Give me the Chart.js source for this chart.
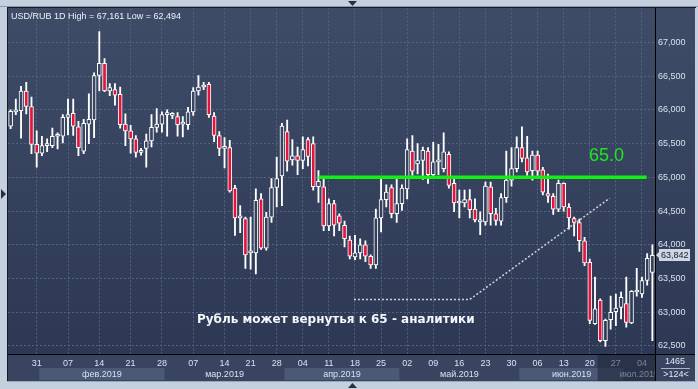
<!DOCTYPE html>
<html>
<head>
<meta charset="utf-8">
<script src="https://cdn.jsdelivr.net/npm/chart.js@4.4.1/dist/chart.umd.min.js"></script>
<style>
  html, body { margin: 0; padding: 0; background: #c5d0de; }
  #wrap { width: 698px; height: 389px; }
</style>
</head>
<body>
<div id="wrap"><canvas id="chart" width="698" height="389"></canvas></div>
<script>
// USD/RUB 1D свечи, 25.01 - 08.07.2019

const dates = [
  '25.01','27.01','28.01','29.01','30.01','31.01','01.02','03.02','04.02','05.02',
  '06.02','07.02','08.02','10.02','11.02','12.02','13.02','14.02','15.02','17.02',
  '18.02','19.02','20.02','21.02','22.02','24.02','25.02','26.02','27.02','28.02',
  '01.03','03.03','04.03','05.03','06.03','07.03','08.03','10.03','11.03','12.03',
  '13.03','14.03','15.03','18.03','19.03','20.03','21.03','22.03','25.03','26.03',
  '27.03','28.03','29.03','01.04','02.04','03.04','04.04','05.04','08.04','09.04',
  '10.04','11.04','12.04','15.04','16.04','17.04','18.04','19.04','22.04','23.04',
  '24.04','25.04','26.04','29.04','30.04','01.05','02.05','03.05','06.05','07.05',
  '08.05','09.05','10.05','13.05','14.05','15.05','16.05','17.05','20.05','21.05',
  '22.05','23.05','24.05','27.05','28.05','29.05','30.05','31.05','03.06','04.06',
  '05.06','06.06','07.06','10.06','11.06','12.06','13.06','14.06','17.06','18.06',
  '19.06','20.06','21.06','24.06','25.06','26.06','27.06','28.06','01.07','02.07',
  '03.07','04.07','05.07','08.07'
];

const open = [
  65.76,65.97,65.99,66.28,66.05,65.49,65.36,65.47,65.47,65.61,
  65.61,65.89,65.95,65.75,65.39,65.79,65.85,66.51,66.69,66.28,
  66.30,66.23,65.79,65.69,65.57,65.37,65.43,65.54,65.74,65.79,
  65.93,65.92,65.90,65.79,65.78,65.97,66.28,66.34,66.38,65.91,
  65.62,65.43,65.44,64.84,64.40,64.39,63.88,63.88,64.68,63.95,
  64.41,64.85,65.02,65.68,65.26,65.32,65.25,65.56,65.50,64.86,
  64.86,64.28,64.61,64.43,64.29,64.07,63.82,63.88,64.00,63.83,
  63.70,64.40,64.67,64.85,64.46,64.61,64.83,65.39,65.20,65.25,
  65.39,65.04,65.23,65.13,65.34,64.91,64.62,64.62,64.67,64.53,
  64.34,64.34,64.86,64.46,64.35,64.70,64.96,65.13,65.44,65.29,
  65.10,65.33,65.11,64.76,64.72,64.53,64.91,64.56,64.39,64.33,
  64.06,63.74,62.83,63.18,62.58,62.89,63.01,63.07,63.13,62.84,
  63.30,63.27,63.47,63.59
];
const high = [
  66.00,66.16,66.35,66.41,66.19,65.69,65.61,65.57,65.73,65.66,
  65.93,66.16,66.16,65.83,65.86,66.24,66.55,67.161,66.76,66.39,
  66.39,66.34,65.94,65.77,65.62,65.43,65.64,65.93,66.02,65.97,
  66.00,65.96,65.96,65.90,66.04,66.33,66.51,66.41,66.41,65.96,
  65.68,65.59,65.55,64.88,64.58,64.41,64.41,64.83,64.76,64.48,
  64.98,65.30,65.80,65.85,65.56,65.45,65.60,65.59,65.60,65.10,
  65.00,64.68,64.66,64.46,64.35,64.13,64.14,64.09,64.06,63.85,
  64.53,64.99,64.89,64.89,64.98,64.89,65.57,65.62,65.50,65.45,
  65.44,65.52,65.49,65.66,65.38,64.98,64.81,64.81,64.82,64.68,
  64.49,64.93,64.93,64.54,64.76,65.39,65.44,65.60,65.75,65.61,
  65.39,65.39,65.15,65.05,64.76,64.96,64.92,64.61,64.41,64.38,
  64.11,63.79,63.52,63.20,62.90,63.24,63.27,63.30,63.52,63.32,
  63.65,63.52,63.87,64.00
];
const low = [
  65.72,65.93,65.58,65.94,65.35,65.15,65.32,65.38,65.44,65.42,
  65.51,65.63,65.62,65.32,65.35,65.50,65.59,66.28,66.27,66.21,
  66.07,65.73,65.47,65.36,65.30,65.33,65.15,65.45,65.67,65.67,
  65.61,65.87,65.61,65.60,65.71,65.92,66.22,66.30,65.89,65.53,
  65.32,65.14,64.78,64.14,64.18,63.65,63.64,63.57,63.93,63.92,
  64.33,64.56,64.58,65.09,65.18,65.04,65.13,65.17,64.81,64.63,
  64.21,64.21,64.13,64.21,63.97,63.79,63.78,63.79,63.75,63.65,
  63.65,64.19,64.56,64.40,64.33,64.51,64.68,65.03,65.05,64.97,
  64.91,64.98,65.04,65.08,64.84,64.49,64.40,64.56,64.40,64.34,
  64.15,64.29,64.29,64.29,64.29,64.63,64.87,65.08,65.23,65.03,
  64.96,65.00,64.74,64.63,64.45,64.49,64.50,64.23,64.13,63.90,
  63.69,62.83,62.82,62.56,62.494,62.75,62.80,62.90,62.78,62.83,
  63.24,63.22,63.40,62.58
];
const close = [
  65.98,66.00,66.28,66.05,65.49,65.36,65.47,65.49,65.61,65.62,
  65.89,65.93,65.76,65.44,65.80,65.86,66.51,66.69,66.28,66.33,
  66.22,65.78,65.69,65.57,65.37,65.38,65.54,65.74,65.79,65.93,
  65.94,65.93,65.78,65.80,65.97,66.28,66.34,66.36,65.93,65.62,
  65.43,65.43,64.80,64.40,64.40,63.85,63.90,64.66,63.95,64.41,
  64.85,64.98,65.76,65.24,65.32,65.25,65.41,65.31,64.86,64.94,
  64.28,64.61,64.29,64.32,64.09,63.83,63.88,64.00,63.83,63.70,
  64.40,64.67,64.78,64.46,64.61,64.84,65.41,65.09,65.25,65.40,
  65.04,65.23,65.24,65.38,64.88,64.62,64.62,64.67,64.52,64.37,
  64.37,64.87,64.46,64.36,64.70,64.96,65.13,65.44,65.28,65.08,
  65.33,65.09,64.78,64.72,64.53,64.91,64.56,64.40,64.33,64.06,
  63.73,62.88,63.05,62.58,62.88,63.00,63.06,63.22,62.85,63.31,
  63.31,63.47,63.80,63.842
];

const xTickDates = ['31.01','07.02','14.02','21.02','28.02','07.03','14.03','21.03','28.03',
  '04.04','11.04','18.04','25.04','02.05','09.05','16.05','23.05','30.05','06.06','13.06',
  '20.06','27.06','04.07'];
const yTickValues = [62.5, 63, 63.5, 64, 64.5, 65, 65.5, 66, 66.5, 67];
const monthNames = ['янв','фев','мар','апр','май','июн','июл','авг','сен','окт','ноя','дек'];

// уровень 65 и пунктирная линия (номер свечи, цена)
const levelX = [59, 121.9];
const levelY = [65.0, 65.0];
const trendX = [65.8, 88, 114.8];
const trendY = [63.19, 63.19, 64.69];

const titleText = 'USD/RUB 1D High = 67,161 Low = 62,494';
const levelText = '65.0';
const noteText = 'Рубль может вернутья к 65 - аналитики';
const barsTotal = 1465;

const RED = '#e5143c';

function panelGradient(chart) {
  if (!chart._panelGrad) {
    const g = chart.ctx.createLinearGradient(0, 8, 0, 354);
    g.addColorStop(0, '#3f4c68');
    g.addColorStop(1, '#2c3854');
    chart._panelGrad = g;
  }
  return chart._panelGrad;
}

function fmtPrice(v) {
  return v.toFixed(3).replace('.', ',');
}

const decor = {
  id: 'decor',
  beforeDraw(chart) {
    const ctx = chart.ctx;
    ctx.save();
    // рамка окна
    ctx.fillStyle = '#c5d0de';
    ctx.fillRect(0, 0, chart.width, chart.height);
    ctx.fillStyle = '#8d9aad';
    ctx.fillRect(0, 6, chart.width, 1);
    // поле графика и правой шкалы
    ctx.fillStyle = panelGradient(chart);
    ctx.fillRect(8, 8, 687, 346);
    // нижняя шкала
    ctx.fillStyle = '#394560';
    ctx.fillRect(8, 354, 687, 27);
    // полосы месяцев
    const x = chart.scales.x;
    const half = (x.getPixelForValue(1) - x.getPixelForValue(0)) / 2;
    let start = 0;
    chart._months = [];
    for (let i = 1; i <= dates.length; i++) {
      if (i === dates.length || dates[i].slice(3) !== dates[start].slice(3)) {
        const m = +dates[start].slice(3);
        const x0 = x.getPixelForValue(start) - half;
        const x1 = x.getPixelForValue(i - 1) + half;
        if (start > 0) {
          if (m % 2 === 0) {
            ctx.fillStyle = '#4b5976';
            ctx.fillRect(x0, 368, x1 - x0, 12);
          }
          chart._months.push({ x: (x0 + x1) / 2, text: monthNames[m - 1] + '.2019' });
        }
        start = i;
      }
    }
    // границы
    ctx.fillStyle = '#151a24';
    ctx.fillRect(7, 7, 689, 1);
    ctx.fillRect(7, 7, 1, 375);
    ctx.fillStyle = '#9aa7b9';
    ctx.fillRect(7, 381, 689, 1);
    ctx.restore();
  },
  afterDraw(chart) {
    const ctx = chart.ctx;
    const x = chart.scales.x;
    const y = chart.scales.y;
    ctx.save();
    // разделители
    ctx.fillStyle = '#000000';
    ctx.fillRect(8, 354, 687, 1);
    ctx.fillRect(655, 8, 1, 373);

    // подписи месяцев
    ctx.save();
    ctx.beginPath();
    ctx.rect(8, 355, 647, 26);
    ctx.clip();
    ctx.font = '9px "Liberation Sans", Arial, sans-serif';
    ctx.fillStyle = '#d8e0ee';
    ctx.textAlign = 'center';
    ctx.textBaseline = 'middle';
    chart._months.forEach(m => ctx.fillText(m.text, m.x, 374.5));
    ctx.restore();

    // затемнение справа на шкале
    const half = (x.getPixelForValue(1) - x.getPixelForValue(0)) / 2;
    const dx = x.getPixelForValue(112) + half;
    ctx.fillStyle = 'rgba(24,32,50,0.5)';
    ctx.fillRect(dx, 355, 655 - dx, 26);

    // заголовок
    ctx.font = '9px "Liberation Sans", Arial, sans-serif';
    ctx.fillStyle = '#eef2f8';
    ctx.textAlign = 'left';
    ctx.textBaseline = 'alphabetic';
    ctx.fillText(titleText, 11, 18.5);

    // подпись уровня
    ctx.font = '18px "Liberation Sans", Arial, sans-serif';
    ctx.fillStyle = '#1ee81e';
    ctx.fillText(levelText, 589, 161);

    // комментарий
    ctx.font = 'bold 12px "DejaVu Sans", sans-serif';
    ctx.fillStyle = '#f4f6fa';
    ctx.fillText(noteText, 197, 323);

    // метка текущей цены
    const last = close[close.length - 1];
    const py = Math.round(y.getPixelForValue(last));
    ctx.fillStyle = '#cfd6e3';
    ctx.fillRect(659, py - 6, 31, 12);
    ctx.beginPath();
    ctx.moveTo(656, py);
    ctx.lineTo(660, py - 4);
    ctx.lineTo(660, py + 4);
    ctx.closePath();
    ctx.fill();
    ctx.font = '9px "Liberation Sans", Arial, sans-serif';
    ctx.fillStyle = '#141a26';
    ctx.textBaseline = 'middle';
    ctx.fillText(fmtPrice(last), 661, py + 0.5);

    // правый нижний блок
    ctx.fillStyle = '#e3e9f3';
    ctx.textAlign = 'center';
    ctx.fillText(String(barsTotal), 675, 362);
    ctx.fillText('>' + dates.length + '<', 676, 375);
    ctx.fillStyle = '#a9b4c7';
    ctx.fillRect(661, 368, 29, 1);

    // треугольники рамки
    ctx.fillStyle = '#283040';
    ctx.beginPath();
    ctx.moveTo(348, 1); ctx.lineTo(357, 1); ctx.lineTo(352.5, 6); ctx.closePath(); ctx.fill();
    ctx.beginPath();
    ctx.moveTo(348, 388); ctx.lineTo(357, 388); ctx.lineTo(352.5, 383); ctx.closePath(); ctx.fill();
    ctx.beginPath();
    ctx.moveTo(1, 189); ctx.lineTo(1, 199); ctx.lineTo(6, 194); ctx.closePath(); ctx.fill();
    ctx.restore();
  }
};

const idx = dates.map((d, i) => i);
const tickIdx = xTickDates.map(d => dates.indexOf(d));

const ctx = document.getElementById('chart').getContext('2d');
new Chart(ctx, {
  type: 'bar',
  data: {
    datasets: [
      {
        // тела свечей
        data: idx.map(i => ({ x: i, y: [open[i], close[i]] })),
        grouped: false,
        barThickness: 4,
        minBarLength: 2,
        borderWidth: 1,
        borderColor: '#ffffff',
        borderSkipped: false,
        backgroundColor: c => close[c.dataIndex] >= open[c.dataIndex] ? panelGradient(c.chart) : RED,
        order: 2
      },
      {
        // тени
        data: idx.map(i => ({ x: i, y: [low[i], high[i]] })),
        grouped: false,
        barThickness: 1.2,
        borderWidth: 0,
        backgroundColor: '#ffffff',
        order: 3
      },
      {
        type: 'line',
        data: levelX.map((v, i) => ({ x: v, y: levelY[i] })),
        borderColor: '#12f012',
        borderWidth: 3.5,
        pointRadius: 0,
        order: 0
      },
      {
        type: 'line',
        data: trendX.map((v, i) => ({ x: v, y: trendY[i] })),
        borderColor: '#d4d4d4',
        borderWidth: 1.5,
        borderDash: [2, 2],
        pointRadius: 0,
        order: 1
      }
    ]
  },
  options: {
    responsive: false,
    animation: false,
    devicePixelRatio: 1,
    layout: { padding: { left: 8, top: 8, right: 3, bottom: 7 } },
    plugins: { legend: { display: false }, tooltip: { enabled: false } },
    scales: {
      x: {
        type: 'linear',
        offset: false,
        min: -0.5,
        max: dates.length - 0.5,
        afterFit: s => { s.height = 27; },
        afterBuildTicks: s => { s.ticks = tickIdx.map(v => ({ value: v })); },
        grid: { offset: false, drawTicks: false, color: '#55637e' },
        border: { display: false, dash: [2, 2] },
        ticks: {
          autoSkip: false,
          maxRotation: 0,
          minRotation: 0,
          padding: 3,
          color: '#d8e0ee',
          font: { family: '"Liberation Sans", Arial, sans-serif', size: 9 },
          callback: v => dates[v].slice(0, 2)
        }
      },
      y: {
        position: 'right',
        min: 62.366,
        max: 67.505,
        beginAtZero: false,
        afterFit: s => { s.width = 40; },
        afterBuildTicks: s => { s.ticks = yTickValues.map(v => ({ value: v })); },
        grid: { drawTicks: false, color: '#55637e' },
        border: { display: false, dash: [2, 2] },
        ticks: {
          padding: 3,
          color: '#d8e0ee',
          font: { family: '"Liberation Sans", Arial, sans-serif', size: 9 },
          callback: v => fmtPrice(v)
        }
      }
    }
  },
  plugins: [decor]
});
</script>
</body>
</html>
